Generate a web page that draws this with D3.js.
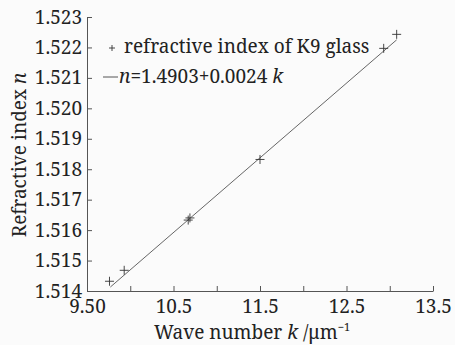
<!DOCTYPE html>
<html>
<head>
<meta charset="utf-8">
<script src="https://cdn.jsdelivr.net/npm/d3@7"></script>
<style>
  body { margin: 0; background: #fbfbfb; }
</style>
</head>
<body>
<svg id="chart" width="455" height="345"></svg>
<script>
// measured refractive index of K9 glass
const waveNumber = [9.76, 9.93, 10.67, 10.69, 11.50, 12.93, 13.08];
const refIndex = [1.51432, 1.51468, 1.51633, 1.51640, 1.51832, 1.52197, 1.52243];

// fitted line end points
const fitK = [9.77, 13.08];
const fitN = [1.51413, 1.52225];

const xTicks = [9.5, 10, 10.5, 11, 11.5, 12, 12.5, 13, 13.5];
const xTickLabels = ["9.50", "", "10.5", "", "11.5", "", "12.5", "", "13.5"];
const yTicks = [1.514, 1.515, 1.516, 1.517, 1.518, 1.519, 1.520, 1.521, 1.522, 1.523];

const FONT = "Noto Serif, Liberation Serif, serif";
const FS = 19;

const margin = { left: 87, right: 22, top: 17, bottom: 54 };
const width = 455, height = 345;

const svg = d3.select("#chart").attr("font-family", FONT);

const x = d3.scaleLinear().domain([9.5, 13.5]).range([margin.left, width - margin.right]);
const y = d3.scaleLinear().domain([1.514, 1.523]).range([height - margin.bottom, margin.top]);

const axisColor = "#555";

// x axis, ticks pointing inward
const xAxis = svg.append("g")
  .attr("transform", `translate(0,${y(1.514)})`)
  .call(d3.axisBottom(x).tickValues(xTicks).tickSizeInner(-5).tickSizeOuter(0)
    .tickFormat((d, i) => xTickLabels[i]).tickPadding(9));
xAxis.attr("font-family", FONT).attr("font-size", FS);
xAxis.select(".domain").attr("stroke", axisColor);
xAxis.selectAll(".tick line").attr("stroke", axisColor);
xAxis.selectAll("text").attr("fill", "#222");

// y axis
const yAxis = svg.append("g")
  .attr("transform", `translate(${x(9.5)},0)`)
  .call(d3.axisLeft(y).tickValues(yTicks).tickSizeInner(-5).tickSizeOuter(0)
    .tickFormat(d3.format(".3f")).tickPadding(5));
yAxis.attr("font-family", FONT).attr("font-size", FS);
yAxis.select(".domain").attr("stroke", axisColor);
yAxis.selectAll(".tick line").attr("stroke", axisColor);
yAxis.selectAll("text").attr("fill", "#222");

// fitted line
svg.append("path")
  .datum(d3.zip(fitK, fitN))
  .attr("fill", "none")
  .attr("stroke", "#555")
  .attr("stroke-width", 0.9)
  .attr("d", d3.line().x(d => x(d[0])).y(d => y(d[1])));

// data markers
const crossPath = s => `M${-s},0H${s}M0,${-s}V${s}`;
svg.append("g")
  .selectAll("path")
  .data(d3.zip(waveNumber, refIndex))
  .join("path")
  .attr("transform", d => `translate(${x(d[0])},${y(d[1])})`)
  .attr("d", crossPath(4.5))
  .attr("stroke", "#333")
  .attr("stroke-width", 0.9)
  .attr("fill", "none");

// legend
const legend = svg.append("g").attr("font-size", FS).attr("fill", "#222");
legend.append("path")
  .attr("transform", "translate(112,48)")
  .attr("d", crossPath(3))
  .attr("stroke", "#333")
  .attr("stroke-width", 0.9);
legend.append("text")
  .attr("x", 124).attr("y", 53)
  .text("refractive index of K9 glass");
legend.append("line")
  .attr("x1", 103).attr("x2", 118)
  .attr("y1", 77).attr("y2", 77)
  .attr("stroke", "#555").attr("stroke-width", 1);
const eq = legend.append("text")
  .attr("x", 119).attr("y", 83);
eq.append("tspan").attr("font-style", "italic").text("n");
eq.append("tspan").text("=1.4903+0.0024 ");
eq.append("tspan").attr("font-style", "italic").text("k");

// axis titles
const xt = svg.append("text")
  .attr("x", 252).attr("y", 339)
  .attr("text-anchor", "middle")
  .attr("font-size", FS)
  .attr("fill", "#222");
xt.append("tspan").text("Wave number ");
xt.append("tspan").attr("font-style", "italic").text("k");
xt.append("tspan").text(" /\u03bcm");
xt.append("tspan").attr("font-size", 11).attr("dy", -8).text("\u22121");

const yt = svg.append("text")
  .attr("transform", "translate(26,155) rotate(-90)")
  .attr("text-anchor", "middle")
  .attr("font-size", FS)
  .attr("fill", "#222");
yt.append("tspan").text("Refractive index ");
yt.append("tspan").attr("font-style", "italic").text("n");
</script>
</body>
</html>
